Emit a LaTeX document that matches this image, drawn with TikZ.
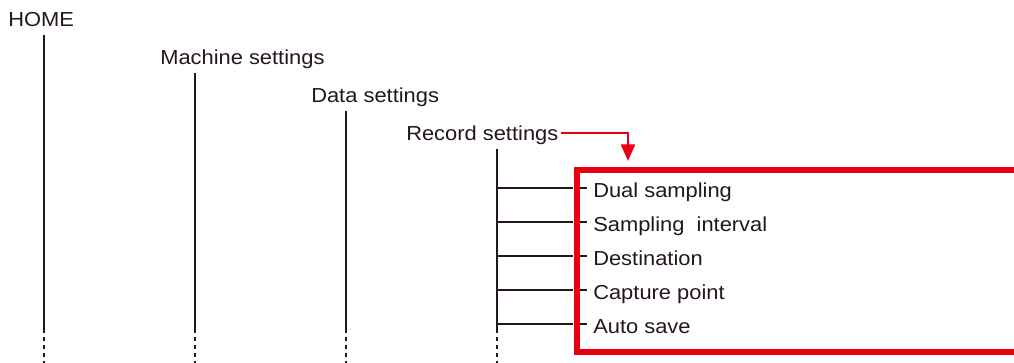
\documentclass[tikz,border=0pt]{standalone}
\usepackage{fontspec}
\setmainfont{Liberation Sans}[FakeStretch=1.08]
\usetikzlibrary{arrows.meta}
\definecolor{ink}{HTML}{231815}
\definecolor{mred}{HTML}{E60012}
\tikzset{
  lbl/.style={anchor=base west, inner sep=0pt, text=ink, font=\fontsize{15.2pt}{16pt}\selectfont},
  vline/.style={draw=ink, line width=0.8pt},
  vdash/.style={draw=ink, line width=0.8pt, dash pattern=on 3pt off 3pt},
  branch/.style={draw=ink, line width=0.8pt},
  tick/.style={draw=ink, line width=0.8pt},
  redarrow/.style={draw=mred, line width=1.9pt, -{Triangle[width=10.5pt,length=12.5pt]}},
  redbox/.style={draw=mred, line width=3.8pt, line join=miter}
}
\begin{document}
\begin{tikzpicture}[x=0.75pt,y=-0.75pt]
\useasboundingbox (0,0) rectangle (1014,363);
% headings
\node[lbl] (home) at (8,27) {HOME};
\node[lbl] (mach) at (160,65) {Machine settings};
\node[lbl] (data) at (311,103) {Data settings};
\node[lbl] (rec)  at (406,141) {Record settings};
% vertical line coordinates
\foreach \n/\x/\t in {h/44/35, m/195/73, d/346/111, r/497/149}{
  \coordinate (\n top) at (\x,\t);
  \coordinate (\n mid) at (\x,329);
  \coordinate (\n bot) at (\x,363);
  \draw[vline] (\n top) -- (\n mid);
  \draw[vdash] (\n mid) -- (\n bot);
}
% items
\foreach \i/\y/\txt in {1/188/Dual sampling, 2/222/Sampling\ \ interval, 3/256/Destination, 4/290/Capture point, 5/324/Auto save}{
  \coordinate (b\i) at (497,\y);
  \coordinate (e\i) at (573,\y);
  \coordinate (ts\i) at (580,\y);
  \coordinate (te\i) at (587,\y);
  \node[lbl] (item\i) at (593,\y+9.5) {\txt};
  \draw[branch] (b\i) -- (e\i);
  \draw[tick] (ts\i) -- (te\i);
}
% red arrow
\coordinate (arrtip) at (628,161);
\draw[redarrow] ([xshift=2pt]rec.base east) ++(0,-8) -| (arrtip);
% red box (open to the right)
\coordinate (boxtl) at (577,170);
\coordinate (boxtr) at (1020,170);
\coordinate (boxbl) at (577,352);
\coordinate (boxbr) at (1020,352);
\draw[redbox] (boxtr) -- (boxtl) -- (boxbl) -- (boxbr);
\end{tikzpicture}
\end{document}
